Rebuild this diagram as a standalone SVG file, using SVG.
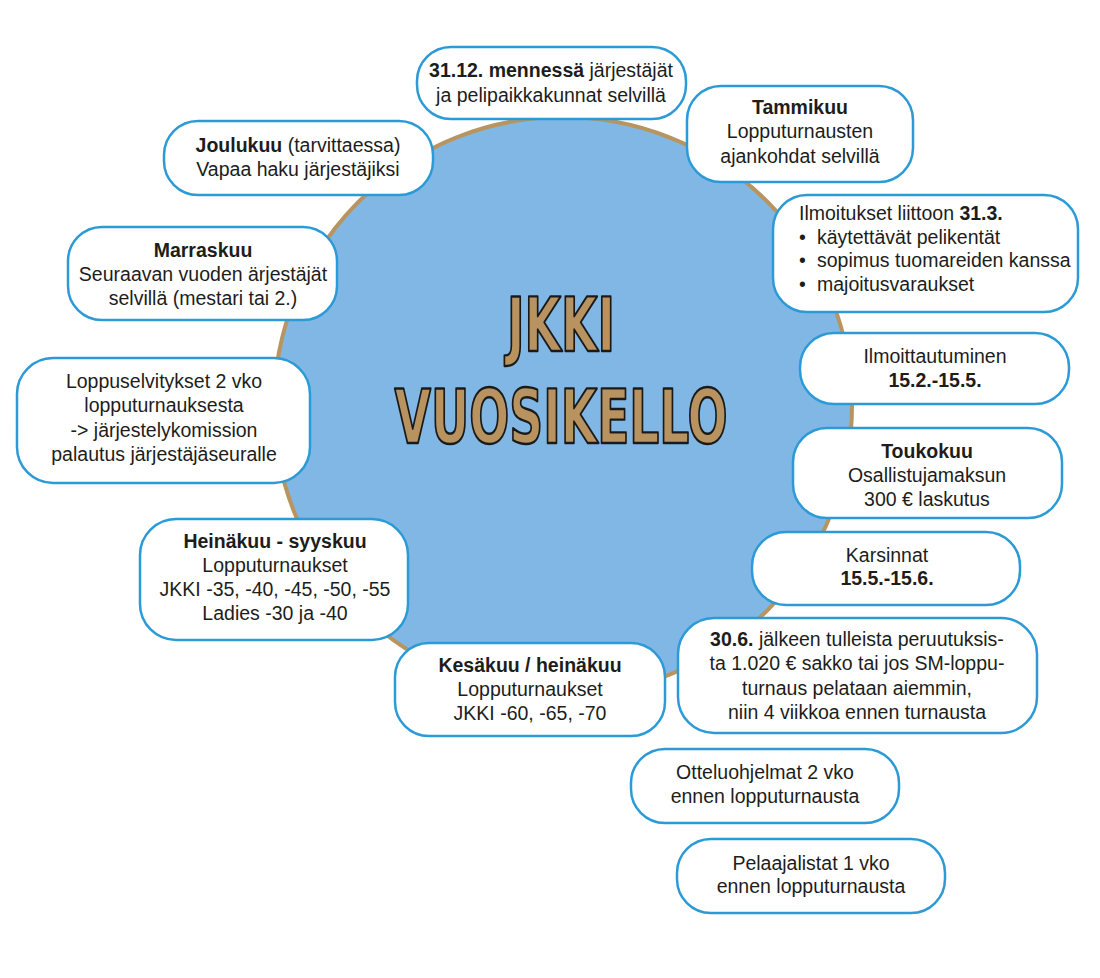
<svg xmlns="http://www.w3.org/2000/svg" width="1100" height="978" viewBox="0 0 1100 978">
<style>
.box{fill:#ffffff;stroke:#2b9ad6;stroke-width:2.5}
.t{font-family:"Liberation Sans",Arial,sans-serif;font-size:19.5px;fill:#1d1d1b;text-anchor:middle}
.l{text-anchor:start}
.b{font-weight:bold}
.title{font-family:"DejaVu Sans Condensed","DejaVu Sans",sans-serif;font-weight:bold;font-size:75px;fill:#b8935f;stroke:#1a1a1a;stroke-width:2.4;stroke-linejoin:round;text-anchor:middle}
</style>
<rect width="1100" height="978" fill="#ffffff"/>
<g id="clock">
<circle cx="563" cy="406" r="289" fill="#81b7e4" stroke="#b8945f" stroke-width="4"/>
<text class="title" x="561" y="351" textLength="108" lengthAdjust="spacingAndGlyphs">JKKI</text>
<text class="title" x="561" y="443" textLength="333" lengthAdjust="spacingAndGlyphs">VUOSIKELLO</text>
</g>
<g id="n-3112">
<rect class="box" x="417" y="47" width="269" height="72" rx="34"/>
<text class="t" x="551" y="77"><tspan class="b">31.12. mennessä</tspan> järjestäjät</text>
<text class="t" x="551" y="102">ja pelipaikkakunnat selvillä</text>
</g>
<g id="n-tammikuu">
<rect class="box" x="687" y="86" width="226" height="96" rx="34"/>
<text class="t b" x="800" y="114">Tammikuu</text>
<text class="t" x="800" y="138">Lopputurnausten</text>
<text class="t" x="800" y="163">ajankohdat selvillä</text>
</g>
<g id="n-joulukuu">
<rect class="box" x="164" y="121" width="269" height="74" rx="34"/>
<text class="t" x="298" y="152"><tspan class="b">Joulukuu</tspan> (tarvittaessa)</text>
<text class="t" x="298" y="176">Vapaa haku järjestäjiksi</text>
</g>
<g id="n-ilmoitukset">
<rect class="box" x="773" y="195" width="305" height="117" rx="34"/>
<text class="t l" x="799" y="220">Ilmoitukset liittoon <tspan class="b">31.3.</tspan></text>
<text class="t l" x="799" y="244">•</text>
<text class="t l" x="817" y="244">käytettävät pelikentät</text>
<text class="t l" x="799" y="267">•</text>
<text class="t l" x="817" y="267">sopimus tuomareiden kanssa</text>
<text class="t l" x="799" y="291">•</text>
<text class="t l" x="817" y="291">majoitusvaraukset</text>
</g>
<g id="n-marraskuu">
<rect class="box" x="68" y="227" width="269" height="93" rx="34"/>
<text class="t b" x="203" y="257">Marraskuu</text>
<text class="t" x="203" y="281">Seuraavan vuoden ärjestäjät</text>
<text class="t" x="203" y="305">selvillä (mestari tai 2.)</text>
</g>
<g id="n-ilmoittautuminen">
<rect class="box" x="800" y="333" width="269" height="71" rx="34"/>
<text class="t" x="935" y="363">Ilmoittautuminen</text>
<text class="t b" x="935" y="387">15.2.-15.5.</text>
</g>
<g id="n-loppuselvitykset">
<rect class="box" x="17" y="358" width="293" height="125" rx="36"/>
<text class="t" x="164" y="388">Loppuselvitykset 2 vko</text>
<text class="t" x="164" y="412">lopputurnauksesta</text>
<text class="t" x="164" y="437">-&gt; järjestelykomission</text>
<text class="t" x="164" y="461">palautus järjestäjäseuralle</text>
</g>
<g id="n-toukokuu">
<rect class="box" x="793" y="428" width="269" height="90" rx="34"/>
<text class="t b" x="927" y="458">Toukokuu</text>
<text class="t" x="927" y="482">Osallistujamaksun</text>
<text class="t" x="927" y="506">300 € laskutus</text>
</g>
<g id="n-heinakuu">
<rect class="box" x="140" y="519" width="268" height="121" rx="36"/>
<text class="t b" x="275" y="548">Heinäkuu - syyskuu</text>
<text class="t" x="275" y="572">Lopputurnaukset</text>
<text class="t" x="275" y="596">JKKI -35, -40, -45, -50, -55</text>
<text class="t" x="275" y="620">Ladies -30 ja -40</text>
</g>
<g id="n-karsinnat">
<rect class="box" x="752" y="532" width="268" height="73" rx="34"/>
<text class="t" x="887" y="562">Karsinnat</text>
<text class="t b" x="887" y="585">15.5.-15.6.</text>
</g>
<g id="n-kesakuu">
<rect class="box" x="395" y="643" width="270" height="93" rx="34"/>
<text class="t b" x="530" y="672">Kesäkuu / heinäkuu</text>
<text class="t" x="530" y="696">Lopputurnaukset</text>
<text class="t" x="530" y="720">JKKI -60, -65, -70</text>
</g>
<g id="n-306">
<rect class="box" x="678" y="618" width="359" height="115" rx="36"/>
<text class="t" x="857" y="646"><tspan class="b">30.6.</tspan> jälkeen tulleista peruutuksis-</text>
<text class="t" x="857" y="670">ta 1.020 € sakko tai jos SM-loppu-</text>
<text class="t" x="857" y="695">turnaus pelataan aiemmin,</text>
<text class="t" x="857" y="719">niin 4 viikkoa ennen turnausta</text>
</g>
<g id="n-otteluohjelmat">
<rect class="box" x="631" y="749" width="268" height="74" rx="34"/>
<text class="t" x="765" y="779">Otteluohjelmat 2 vko</text>
<text class="t" x="765" y="803">ennen lopputurnausta</text>
</g>
<g id="n-pelaajalistat">
<rect class="box" x="677" y="839" width="268" height="74" rx="34"/>
<text class="t" x="811" y="870">Pelaajalistat 1 vko</text>
<text class="t" x="811" y="893">ennen lopputurnausta</text>
</g>
</svg>
